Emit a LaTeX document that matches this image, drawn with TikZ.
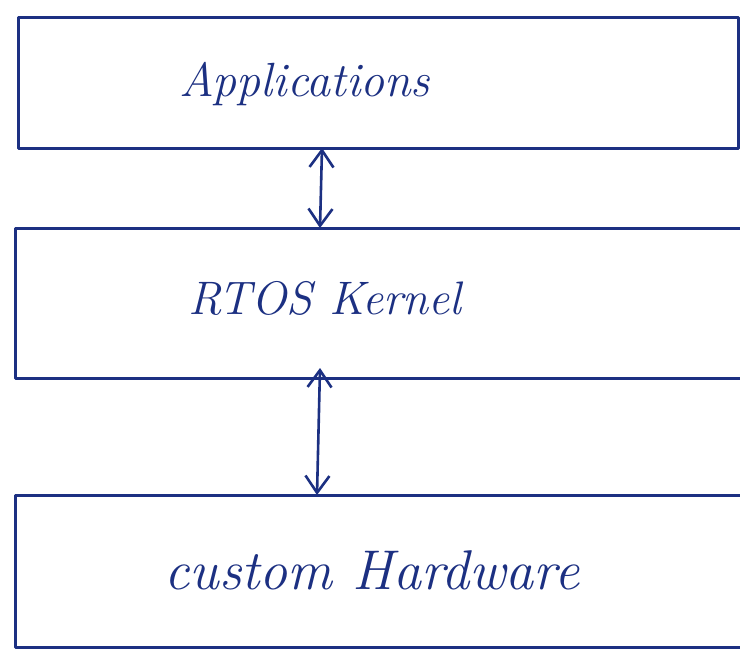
\documentclass[tikz,border=0pt]{standalone}
\usetikzlibrary{arrows.meta}
\definecolor{ink}{RGB}{28,48,130}
\begin{document}
\begin{tikzpicture}[x=1pt,y=-1pt,
  layerbox/.style={draw=none,rectangle,inner sep=0pt,anchor=north west},
  edge/.style={draw=ink,line width=3pt,line cap=round,line join=round},
  link/.style={draw=ink,line width=2.6pt,{Straight Barb[length=17pt,width=24pt,line width=2.6pt]}-{Straight Barb[length=17pt,width=24pt,line width=2.6pt]}},
  hand/.style={text=ink,font=\itshape}]
\useasboundingbox (0,0) rectangle (740,649);
\fill[white] (0,0) rectangle (740,649);
% layers
\node[layerbox,minimum width=720pt,minimum height=131pt] (apps) at (18,17) {};
\node[layerbox,minimum width=740pt,minimum height=150pt] (kern) at (15,228) {};
\node[layerbox,minimum width=740pt,minimum height=152pt] (hw) at (15,495) {};
\draw[edge] (apps.north west) rectangle (apps.south east);
\draw[edge] (kern.north east) -- (kern.north west) -- (kern.south west) -- (kern.south east);
\draw[edge] (hw.north east) -- (hw.north west) -- (hw.south west) -- (hw.south east);
% labels
\node[hand,font=\fontsize{48}{52}\selectfont\itshape] (tapps) at (305,84) {Applications};
\node[hand,font=\fontsize{47}{52}\selectfont\itshape] (tkern) at (325,298) {RTOS Kernel};
\node[hand,font=\fontsize{56}{60}\selectfont\itshape] (thw) at (372,570) {custom Hardware};
% connectors
\coordinate (a1) at (322,148);
\coordinate (a2) at (320,228);
\coordinate (b1) at (320,368);
\coordinate (b2) at (317,495);
\draw[link] (a1) -- (a2);
\draw[link] (b1) -- (b2);
\end{tikzpicture}
\end{document}
